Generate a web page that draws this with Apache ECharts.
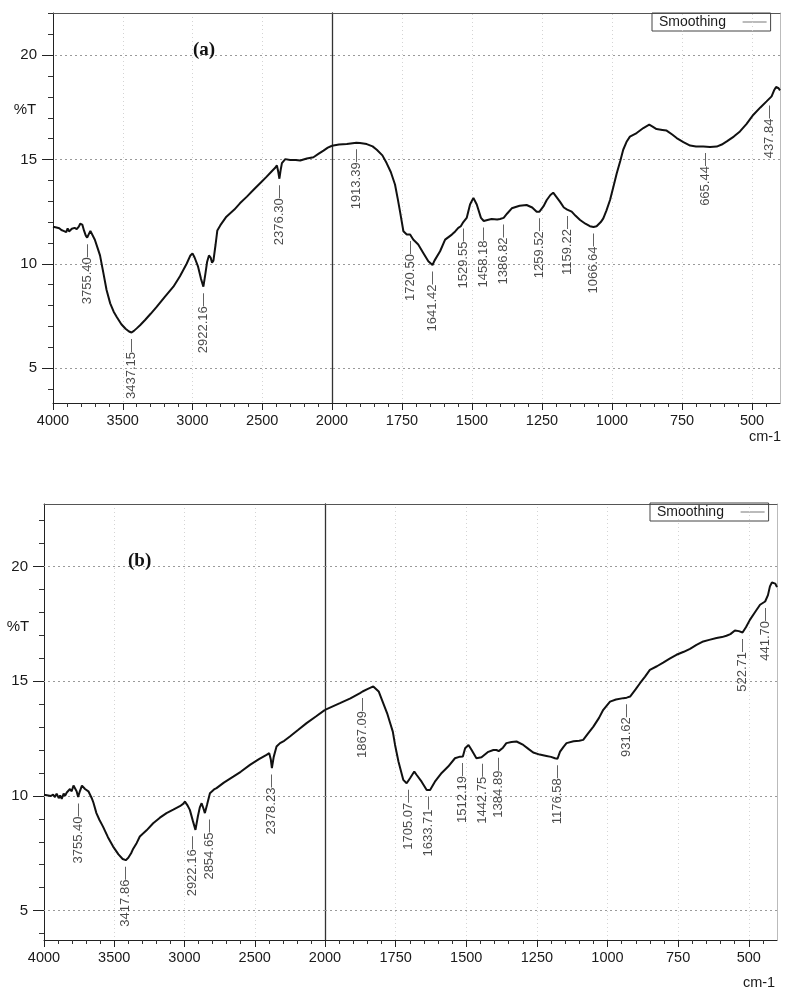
<!DOCTYPE html>
<html>
<head>
<meta charset="utf-8">
<script src="https://cdn.jsdelivr.net/npm/echarts@6/dist/echarts.min.js"></script>
<style>
  html, body { margin: 0; padding: 0; background: #fff; }
  #chart { width: 789px; height: 999px; }
</style>
</head>
<body>
<div id="chart"></div>
<script>
// ---------- DATA ----------
// Spectrum (a): [wavenumber cm-1, %T]
const spectrumA = [
  [4000,11.78],[3975,11.74],[3955,11.7],[3940,11.62],[3925,11.58],[3915,11.66],[3905,11.52],[3895,11.7],
  [3885,11.55],[3875,11.5],[3865,11.68],[3855,11.6],[3845,11.72],[3830,11.66],[3815,11.78],[3805,11.92],
  [3790,11.88],[3778,11.6],[3765,11.35],[3755,11.25],[3745,11.4],[3732,11.58],[3720,11.5],[3700,11.15],
  [3680,10.75],[3663,10.4],[3640,9.6],[3616,8.74],[3590,8.1],[3565,7.7],[3543,7.45],[3510,7.1],
  [3480,6.88],[3455,6.75],[3437,6.7],[3420,6.78],[3400,6.9],[3376,7.05],[3340,7.3],[3300,7.6],
  [3257,7.93],[3200,8.4],[3137,8.9],[3090,9.4],[3042,10.0],[3015,10.4],[3000,10.5],[2985,10.3],
  [2960,9.86],[2940,9.3],[2922,8.9],[2908,9.5],[2895,10.1],[2882,10.4],[2870,10.3],[2860,10.05],
  [2850,10.15],[2835,10.9],[2822,11.6],[2800,11.85],[2757,12.26],[2700,12.6],[2660,12.9],[2610,13.22],
  [2564,13.54],[2510,13.9],[2468,14.18],[2430,14.45],[2409,14.59],[2395,14.72],[2385,14.4],[2377,14.08],
  [2368,14.5],[2359,14.83],[2350,14.85],[2335,15.02],[2300,14.98],[2260,14.98],[2228,14.95],[2180,15.05],
  [2133,15.11],[2095,15.28],[2061,15.43],[2030,15.57],[2000,15.66],[1975,15.72],[1947,15.74],[1913,15.8],
  [1900,15.79],[1876,15.74],[1855,15.63],[1840,15.47],[1820,15.2],[1805,14.83],[1790,14.4],[1775,13.8],
  [1765,13.1],[1757,12.5],[1745,11.56],[1733,11.4],[1721,11.4],[1710,11.16],[1692,10.92],[1674,10.52],
  [1656,10.12],[1641,9.94],[1634,10.15],[1614,10.6],[1596,11.16],[1572,11.4],[1560,11.55],[1549,11.72],
  [1540,11.8],[1531,12.0],[1519,12.2],[1507,12.84],[1495,13.16],[1483,12.84],[1468,12.2],[1458,12.05],
  [1445,12.1],[1430,12.15],[1410,12.12],[1400,12.15],[1387,12.2],[1375,12.4],[1358,12.66],[1330,12.78],
  [1305,12.82],[1285,12.7],[1269,12.5],[1259,12.5],[1245,12.75],[1233,13.06],[1220,13.3],[1210,13.41],
  [1198,13.2],[1186,12.98],[1172,12.7],[1160,12.6],[1144,12.5],[1130,12.3],[1114,12.1],[1095,11.92],
  [1079,11.8],[1066,11.76],[1055,11.8],[1040,12.0],[1031,12.18],[1020,12.55],[1007,13.06],[995,13.7],
  [983,14.34],[970,14.95],[960,15.47],[948,15.85],[936,16.1],[912,16.27],[888,16.51],[867,16.67],
  [855,16.58],[841,16.46],[820,16.42],[805,16.39],[785,16.2],[769,16.03],[745,15.84],[721,15.67],
  [700,15.63],[674,15.62],[650,15.6],[626,15.62],[608,15.72],[590,15.87],[565,16.1],[543,16.35],
  [520,16.7],[495,17.15],[470,17.5],[448,17.79],[430,18.03],[420,18.35],[414,18.48],[405,18.42],[400,18.32]
];
// Spectrum (b): [wavenumber cm-1, %T]
const spectrumB = [
  [4000,10.05],[3970,10.02],[3950,10.0],[3935,10.05],[3922,9.95],[3910,10.1],[3895,9.9],[3885,10.02],
  [3874,9.87],[3860,10.1],[3850,10.0],[3838,10.15],[3825,10.12],[3815,10.3],[3803,10.2],[3790,10.45],
  [3779,10.4],[3768,10.2],[3757,9.95],[3745,10.2],[3730,10.45],[3719,10.48],[3708,10.3],[3696,10.38],
  [3684,10.2],[3672,10.12],[3660,9.9],[3648,9.7],[3627,9.25],[3605,8.95],[3580,8.66],[3545,8.2],
  [3508,7.79],[3470,7.45],[3440,7.25],[3418,7.2],[3400,7.3],[3380,7.5],[3365,7.7],[3340,7.95],
  [3318,8.23],[3270,8.5],[3223,8.81],[3175,9.05],[3128,9.25],[3080,9.4],[3033,9.55],[3010,9.65],
  [2997,9.75],[2980,9.6],[2962,9.39],[2940,8.9],[2922,8.52],[2905,9.1],[2891,9.5],[2878,9.68],
  [2865,9.45],[2855,9.25],[2840,9.6],[2819,10.12],[2790,10.28],[2772,10.34],[2720,10.58],[2653,10.84],
  [2600,11.05],[2534,11.35],[2470,11.6],[2416,11.79],[2397,11.86],[2386,11.6],[2378,11.21],[2365,11.7],
  [2345,12.15],[2320,12.3],[2290,12.4],[2250,12.59],[2190,12.88],[2131,13.17],[2065,13.46],[2000,13.75],
  [1947,14.04],[1910,14.25],[1876,14.48],[1867,14.55],[1850,14.65],[1829,14.77],[1823,14.8],[1810,14.55],
  [1794,14.04],[1780,13.6],[1770,13.2],[1760,12.8],[1752,12.22],[1740,11.5],[1723,10.7],[1711,10.55],
  [1699,10.77],[1684,11.06],[1676,10.92],[1658,10.62],[1640,10.26],[1628,10.26],[1611,10.62],[1587,11.0],
  [1564,11.28],[1540,11.64],[1522,11.71],[1512,11.72],[1504,12.08],[1492,12.22],[1481,12.0],[1464,11.64],
  [1446,11.68],[1422,11.92],[1404,12.0],[1393,12.0],[1385,11.95],[1370,12.1],[1358,12.3],[1340,12.35],
  [1322,12.37],[1298,12.22],[1280,12.05],[1263,11.89],[1240,11.8],[1216,11.74],[1200,11.7],[1186,11.64],
  [1177,11.62],[1168,11.93],[1155,12.15],[1145,12.3],[1120,12.38],[1100,12.4],[1086,12.44],[1070,12.7],
  [1050,13.02],[1030,13.4],[1015,13.75],[991,14.11],[970,14.2],[944,14.26],[932,14.28],[920,14.33],
  [900,14.65],[885,14.91],[867,15.2],[850,15.49],[825,15.65],[803,15.81],[780,15.98],[756,16.15],
  [730,16.28],[708,16.41],[685,16.58],[661,16.73],[640,16.8],[614,16.88],[595,16.92],[579,16.98],
  [565,17.05],[549,17.21],[535,17.18],[522,17.12],[510,17.35],[496,17.67],[478,18.0],[460,18.33],
  [442,18.47],[432,18.75],[425,19.13],[418,19.3],[413,19.35],[406,19.25],[400,19.1]
];
// Peak annotations
const peaksA   = [3755.40, 3437.15, 2922.16, 2376.30, 1913.39, 1720.50, 1641.42, 1529.55, 1458.18, 1386.82, 1259.52, 1159.22, 1066.64, 665.44, 437.84];
const peaksA_T = [11.25, 6.7, 8.9, 14.08, 15.8, 11.4, 9.94, 12.0, 12.05, 12.2, 12.5, 12.6, 11.76, 15.62, 17.9];
const peaksB   = [3755.40, 3417.86, 2922.16, 2854.65, 2378.23, 1867.09, 1705.07, 1633.71, 1512.19, 1442.75, 1384.89, 1176.58, 931.62, 522.71, 441.70];
const peaksB_T = [9.95, 7.2, 8.52, 9.25, 11.21, 14.55, 10.55, 10.26, 11.72, 11.68, 11.95, 11.62, 14.28, 17.12, 18.47];
// Axis tick labels
const xTicksLeft  = [4000, 3500, 3000, 2500, 2000];
const xTicksRight = [1750, 1500, 1250, 1000, 750, 500];
const yTicks      = [5, 10, 15, 20];
const yMinorTicks = [4, 6, 7, 8, 9, 11, 12, 13, 14, 16, 17, 18, 19, 21, 22];
const seriesName  = 'Smoothing';
const yAxisTitle  = '%T';
const xAxisTitle  = 'cm-1';
const panelTitles = ['(a)', '(b)'];

// ---------- LAYOUT / STYLE ----------
const FONT = 'Liberation Sans, Arial, sans-serif';
const plain = (v) => String(v);
const panels = [
  { spec: spectrumA, peaks: peaksA, peaksT: peaksA_T, title: panelTitles[0],
    yMin: 3.32, yMax: 22.03, top: 13, height: 390, left: 53, split: 332, right: 780,
    titlePos: [193, 41], pctT: [25, 110], cm: [765, 437], legendPos: [652, 13], offsets: {} },
  { spec: spectrumB, peaks: peaksB, peaksT: peaksB_T, title: panelTitles[1],
    yMin: 3.72, yMax: 22.72, top: 504, height: 436, left: 44, split: 325, right: 777,
    titlePos: [128, 552], pctT: [18, 627], cm: [759, 983], legendPos: [650, 503],
    offsets: { 2: [0, -3], 3: [0, 5] } }
];

const grid = [], xAxis = [], yAxis = [], series = [], legend = [], title = [], graphic = [];

panels.forEach((p) => {
  const gL = grid.length, gR = gL + 1;
  grid.push({ left: p.left, top: p.top, width: p.split - p.left, height: p.height });
  grid.push({ left: p.split, top: p.top, width: p.right - p.split, height: p.height });

  const xL = xAxis.length;
  xAxis.push({ type: 'value', gridIndex: gL, position: 'bottom', inverse: true, min: 2000, max: 4000, interval: 500,
    axisLine: { show: true, onZero: false, lineStyle: { color: '#222', width: 1 } },
    axisTick: { show: true, length: 7, lineStyle: { color: '#222' } },
    minorTick: { show: true, splitNumber: 5, length: 4, lineStyle: { color: '#333' } },
    axisLabel: { customValues: xTicksLeft, formatter: plain, fontSize: 14.5, color: '#1a1a1a', margin: 10, fontFamily: FONT },
    splitLine: { show: true, lineStyle: { color: '#d4d4d4', type: [1, 3] } } });
  const xR = xAxis.length;
  xAxis.push({ type: 'value', gridIndex: gR, position: 'bottom', inverse: true, min: 400, max: 2000,
    axisLine: { show: true, onZero: false, lineStyle: { color: '#222', width: 1 } },
    axisTick: { show: true, customValues: xTicksRight, length: 7, lineStyle: { color: '#222' } },
    axisLabel: { customValues: xTicksRight, formatter: plain, fontSize: 14.5, color: '#1a1a1a', margin: 10, fontFamily: FONT },
    splitLine: { show: false } });
  const rMinor = [];
  for (let w = 450; w < 2000; w += 50) if (w % 250 !== 0) rMinor.push(w);
  xAxis.push({ type: 'value', gridIndex: gR, position: 'bottom', inverse: true, min: 400, max: 2000,
    axisLine: { show: false, onZero: false },
    axisTick: { show: true, customValues: rMinor, length: 4, lineStyle: { color: '#333' } },
    axisLabel: { show: false }, splitLine: { show: false } });
  [gL, gR].forEach((g, k) => {
    xAxis.push({ type: 'value', gridIndex: g, position: 'top', inverse: true,
      min: k === 0 ? 2000 : 400, max: k === 0 ? 4000 : 2000,
      axisLine: { show: true, onZero: false, lineStyle: { color: '#555', width: 1 } },
      axisTick: { show: false }, axisLabel: { show: false }, splitLine: { show: false } });
  });

  const yL = yAxis.length;
  yAxis.push({ type: 'value', gridIndex: gL, position: 'left', min: p.yMin, max: p.yMax,
    axisLine: { show: true, onZero: false, lineStyle: { color: '#222', width: 1 } },
    axisTick: { show: true, customValues: yTicks, length: 11, lineStyle: { color: '#222' } },
    axisLabel: { customValues: yTicks, fontSize: 15, color: '#1a1a1a', margin: 16, fontFamily: FONT },
    splitLine: { show: false } });
  yAxis.push({ type: 'value', gridIndex: gL, position: 'left', min: p.yMin, max: p.yMax,
    axisLine: { show: false },
    axisTick: { show: true, customValues: yMinorTicks, length: 5, lineStyle: { color: '#333' } },
    axisLabel: { show: false }, splitLine: { show: false } });
  const yR = yAxis.length;
  yAxis.push({ type: 'value', gridIndex: gR, position: 'left', min: p.yMin, max: p.yMax,
    axisLine: { show: true, onZero: false, lineStyle: { color: '#333', width: 1.3 } },
    axisTick: { show: false }, axisLabel: { show: false }, splitLine: { show: false } });
  yAxis.push({ type: 'value', gridIndex: gR, position: 'right', min: p.yMin, max: p.yMax,
    axisLine: { show: true, onZero: false, lineStyle: { color: '#bbb', width: 1 } },
    axisTick: { show: false }, axisLabel: { show: false }, splitLine: { show: false } });

  const hLines = yTicks.map(v => ({ yAxis: v }));
  // gridlines
  series.push({ type: 'line', xAxisIndex: xL, yAxisIndex: yL, data: [], z: 1, silent: true,
    markLine: { silent: true, symbol: 'none', label: { show: false }, animation: false,
      lineStyle: { color: '#9a9a9a', type: [2, 3], width: 1 }, data: hLines } });
  series.push({ type: 'line', xAxisIndex: xR, yAxisIndex: yR, data: [], z: 1, silent: true,
    markLine: { silent: true, symbol: 'none', label: { show: false }, animation: false,
      lineStyle: { color: '#9a9a9a', type: [2, 3], width: 1 },
      data: hLines.concat(xTicksRight.map(v => ({ xAxis: v, lineStyle: { color: '#d4d4d4', type: [1, 3] } }))) } });

  // curve
  const curveStyle = { color: '#111', width: 2 };
  series.push({ name: seriesName, type: 'line', xAxisIndex: xL, yAxisIndex: yL, z: 5,
    data: p.spec.filter(d => d[0] >= 2000), showSymbol: false, symbol: 'none',
    lineStyle: curveStyle, itemStyle: { color: '#111' } });
  series.push({ name: seriesName, type: 'line', xAxisIndex: xR, yAxisIndex: yR, z: 5,
    data: p.spec.filter(d => d[0] <= 2000), showSymbol: false, symbol: 'none',
    lineStyle: curveStyle, itemStyle: { color: '#111' } });

  // peak labels
  const mk = (filterFn) => p.peaks.map((w, i) => ({ w, i })).filter(o => filterFn(o.w)).map(o => {
    const item = { name: o.w.toFixed(2), value: [o.w, p.peaksT[o.i]] };
    if (p.offsets[o.i]) item.label = { offset: p.offsets[o.i] };
    return item;
  });
  const labelStyle = { show: true, position: 'bottom', distance: 6, rotate: 90, align: 'right',
    verticalAlign: 'middle', fontSize: 13, color: '#1a1a1a', fontFamily: FONT,
    formatter: (prm) => prm.name + '\u2014' };
  series.push({ type: 'scatter', xAxisIndex: xL, yAxisIndex: yL, z: 6, symbolSize: 1, silent: true,
    itemStyle: { color: 'rgba(0,0,0,0)' }, label: labelStyle, data: mk(w => w >= 2000) });
  series.push({ type: 'scatter', xAxisIndex: xR, yAxisIndex: yR, z: 6, symbolSize: 1, silent: true,
    itemStyle: { color: 'rgba(0,0,0,0)' }, label: labelStyle, data: mk(w => w < 2000) });

  legend.push({ data: [seriesName], left: p.legendPos[0], top: p.legendPos[1], orient: 'horizontal',
    align: 'right', icon: 'rect', itemWidth: 24, itemHeight: 1, itemGap: 0,
    itemStyle: { color: '#777' }, borderColor: '#444', borderWidth: 1, borderRadius: 0,
    padding: [1, 4, 1, 7], selectedMode: false,
    formatter: (n) => n + '   ',
    textStyle: { fontSize: 14, color: '#1a1a1a', fontFamily: FONT, lineHeight: 16 } });

  title.push({ text: p.title, left: p.titlePos[0], top: p.titlePos[1], padding: 0,
    textStyle: { fontFamily: 'Liberation Serif, Times New Roman, serif', fontWeight: 'bold', fontSize: 19, color: '#111' } });

  graphic.push({ type: 'text', x: p.pctT[0], y: p.pctT[1],
    style: { text: yAxisTitle, fontSize: 15, fontFamily: FONT, fill: '#1a1a1a', align: 'center', verticalAlign: 'middle' } });
  graphic.push({ type: 'text', x: p.cm[0], y: p.cm[1],
    style: { text: xAxisTitle, fontSize: 14.5, fontFamily: FONT, fill: '#1a1a1a', align: 'center', verticalAlign: 'middle' } });
});

const chart = echarts.init(document.getElementById('chart'), null, { renderer: 'canvas' });
chart.setOption({
  animation: false,
  backgroundColor: '#fff',
  title, legend, grid, xAxis, yAxis, series, graphic,
  tooltip: { show: false }
});
</script>
</body>
</html>
